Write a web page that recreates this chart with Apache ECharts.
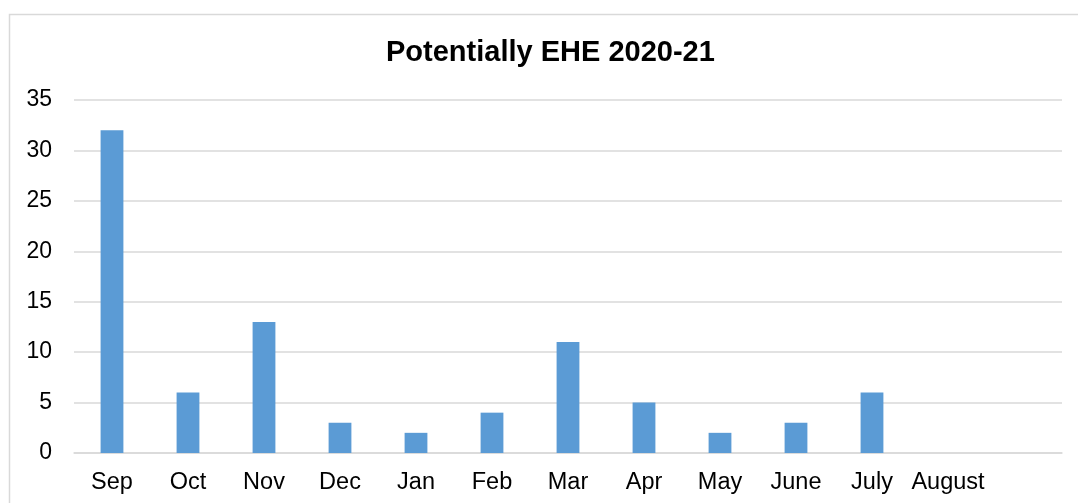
<!DOCTYPE html>
<html>
<head>
<meta charset="utf-8">
<title>Potentially EHE 2020-21</title>
<script src="https://cdn.jsdelivr.net/npm/echarts@6/dist/echarts.min.js"></script>
<style>
  html, body { margin: 0; padding: 0; background: #ffffff; }
  #chart { width: 1078px; height: 503px; }
</style>
</head>
<body>
<div id="chart"></div>
<script>
// Monthly counts for the 2020-21 school year (last slot left blank)
const months = ['Sep', 'Oct', 'Nov', 'Dec', 'Jan', 'Feb', 'Mar', 'Apr', 'May', 'June', 'July', 'August', ''];
const counts = [32, 6, 13, 3, 2, 4, 11, 5, 2, 3, 6, null, null];
const yTicks = { min: 0, max: 35, step: 5 };

const FONT = '"Liberation Sans", Arial, sans-serif';
const chart = echarts.init(document.getElementById('chart'), null, { renderer: 'canvas' });

chart.setOption({
  animation: false,
  backgroundColor: '#ffffff',
  title: {
    text: 'Potentially EHE 2020-21',
    left: 381,
    top: 33,
    textStyle: { fontFamily: FONT, fontSize: 29, fontWeight: 'bold', color: '#000000' }
  },
  graphic: [{
    type: 'rect',
    silent: true,
    shape: { x: 9.5, y: 14.5, width: 1200, height: 700 },
    style: { fill: 'none', stroke: '#d9d9d9', lineWidth: 1.5 }
  }],
  grid: { left: 74, right: 16, top: 100, bottom: 50, containLabel: false },
  xAxis: {
    type: 'category',
    data: months,
    axisLine: { show: true, lineStyle: { color: '#d9d9d9', width: 1.5 } },
    axisTick: { show: false },
    axisLabel: { fontFamily: FONT, fontSize: 23.5, color: '#000000', margin: 18, interval: 0 }
  },
  yAxis: {
    type: 'value',
    min: yTicks.min,
    max: yTicks.max,
    interval: yTicks.step,
    axisLine: { show: false },
    axisTick: { show: false },
    splitLine: { lineStyle: { color: '#d9d9d9', width: 1.5 } },
    axisLabel: { fontFamily: FONT, fontSize: 23, color: '#000000', margin: 22 }
  },
  series: [{
    type: 'bar',
    data: counts,
    barWidth: '30%',
    itemStyle: { color: '#5b9bd5' }
  }]
});
</script>
</body>
</html>
